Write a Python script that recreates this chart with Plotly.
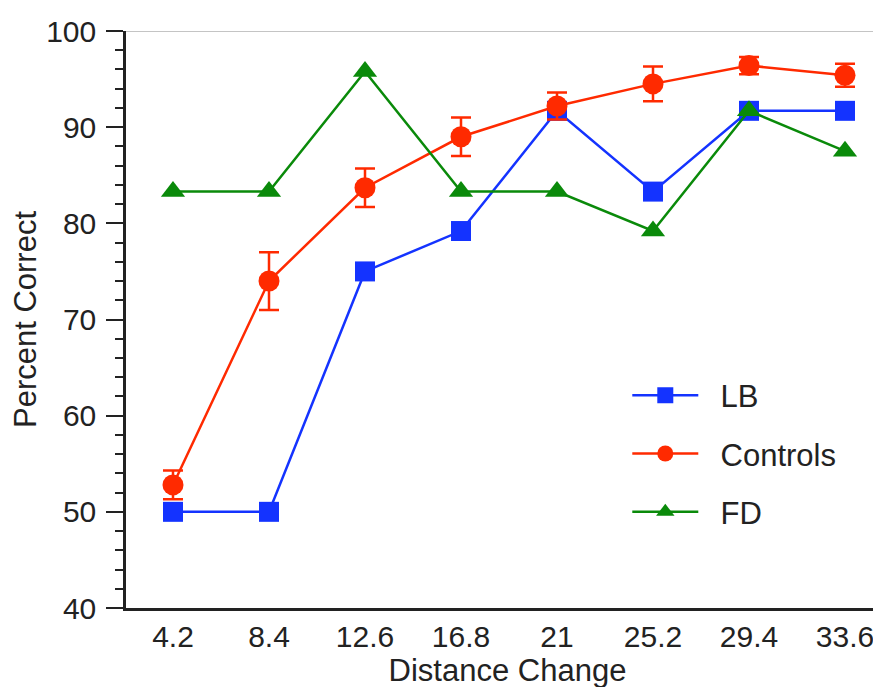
import plotly.graph_objects as go

distance = [4.2, 8.4, 12.6, 16.8, 21, 25.2, 29.4, 33.6]
tick_labels = ["4.2", "8.4", "12.6", "16.8", "21", "25.2", "29.4", "33.6"]

lb = [50.0, 50.0, 75.0, 79.2, 91.7, 83.3, 91.7, 91.7]
controls = [52.8, 74.0, 83.7, 89.0, 92.2, 94.5, 96.4, 95.4]
controls_err = [1.5, 3.0, 2.0, 2.0, 1.4, 1.8, 0.9, 1.2]
fd = [83.3, 83.3, 95.8, 83.3, 83.3, 79.2, 91.7, 87.5]

FONT = "Liberation Sans, Arial, Helvetica, sans-serif"
TXT = "#222222"
GAP = "\u00a0\u00a0"

fig = go.Figure()
fig.add_trace(go.Scatter(
    x=distance, y=lb, name=GAP + "LB", mode="lines+markers", legendgroup="a",
    line=dict(color="#1433ff", width=2.5),
    marker=dict(symbol="square", size=20, color="#1433ff"),
))
fig.add_trace(go.Scatter(
    x=distance, y=controls, name=GAP + "Controls", mode="lines+markers", legendgroup="b",
    line=dict(color="#ff2a00", width=2.5),
    marker=dict(symbol="circle", size=21, color="#ff2a00"),
    error_y=dict(type="data", array=controls_err, visible=True,
                 color="#ff2a00", thickness=2.5, width=10),
))
fig.add_trace(go.Scatter(
    x=distance, y=fd, name=GAP + "FD", mode="lines+markers", legendgroup="c",
    line=dict(color="#0a8a0a", width=2.5),
    marker=dict(symbol="triangle-up", size=21, color="#0a8a0a"),
))

fig.add_shape(type="line", xref="paper", yref="y", x0=0, x1=1, y0=100, y1=100,
              line=dict(color="#c4c4c4", width=2), layer="below")

fig.update_layout(
    width=881, height=687,
    margin=dict(l=118, r=0, t=23, b=87),
    paper_bgcolor="white", plot_bgcolor="white",
    font=dict(family=FONT, size=30, color=TXT),
    showlegend=True,
    legend=dict(x=0.657, y=0.415, xanchor="left", yanchor="top",
                bgcolor="rgba(0,0,0,0)", itemwidth=66,
                traceorder="grouped", tracegroupgap=15,
                font=dict(family=FONT, size=31, color=TXT)),
    xaxis=dict(
        range=[2.144, 35.525], tickmode="array", tickvals=distance, ticktext=tick_labels,
        showgrid=False, zeroline=False, showline=True, linecolor="#222222", linewidth=2.5,
        ticks="", tickfont=dict(size=30),
        title=dict(text="Distance Change", font=dict(size=31), standoff=2),
    ),
    yaxis=dict(
        range=[40, 100], tickmode="linear", tick0=40, dtick=10,
        showgrid=False, zeroline=False, showline=True, linecolor="#222222", linewidth=2.5,
        ticks="outside", ticklen=17, tickwidth=2, tickcolor="#222222",
        tickfont=dict(size=30), ticklabelstandoff=4,
        minor=dict(dtick=2, ticks="outside", ticklen=8, tickwidth=2, tickcolor="#222222"),
        title=dict(text="Percent Correct", font=dict(size=31), standoff=8),
    ),
)

fig.write_html("out.html")
